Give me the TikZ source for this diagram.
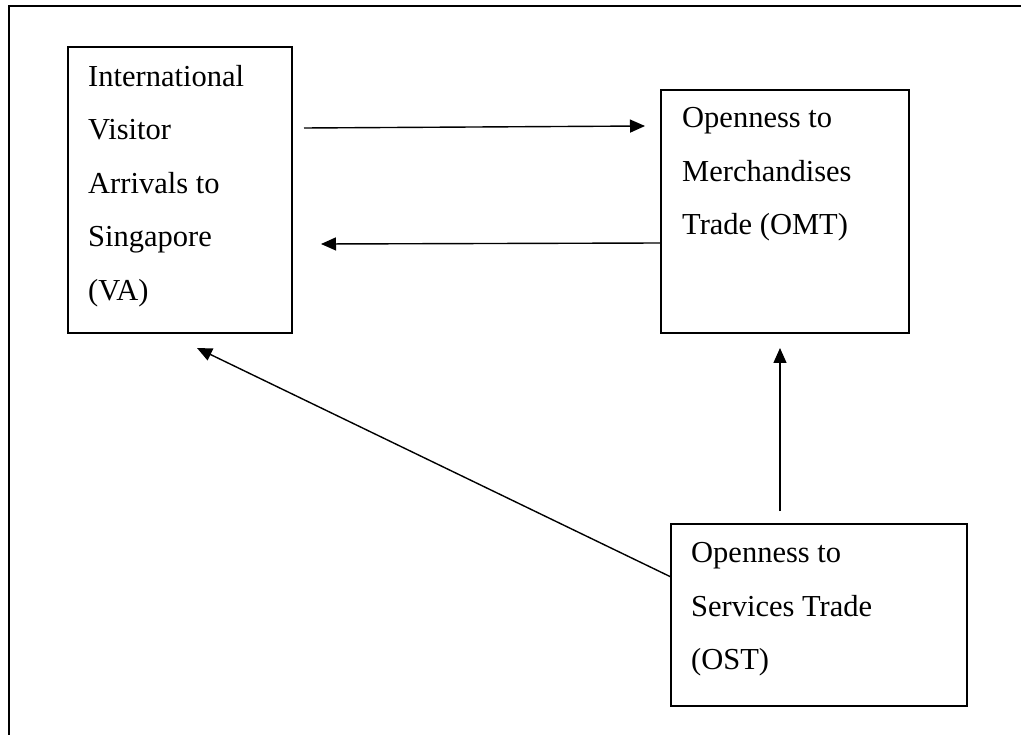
\documentclass[tikz,border=0pt]{standalone}
\usepackage{fontspec}
\setmainfont{Liberation Serif}
\usetikzlibrary{arrows.meta,calc}
\begin{document}
\begin{tikzpicture}[x=1pt,y=-1pt,
  box/.style={draw,line width=1.6pt,rectangle,inner sep=0pt,outer sep=0pt},
  lbl/.style={anchor=north west,inner sep=0pt,align=left,font=\fontsize{30.5}{53.5}\selectfont},
  arr/.style={line width=1.4pt,-{Triangle[length=15pt,width=13pt]}},
  frame/.style={line width=2pt}]
\useasboundingbox (0,0) rectangle (1021,735);
% outer frame (only top and left edges visible)
\draw[frame] (1021,6) -- (9,6) -- (9,735);
% boxes
\node[box,minimum width=224pt,minimum height=286pt] (va) at (180,190) {};
\node[box,minimum width=248pt,minimum height=243pt] (omt) at (785,211.5) {};
\node[box,minimum width=296pt,minimum height=182pt] (ost) at (819,615) {};
% labels
\node[lbl] (valbl) at ($(va.north west)+(20,18)$) {International\\Visitor\\Arrivals to\\Singapore\\(VA)};
\node[lbl] (omtlbl) at ($(omt.north west)+(21,17.5)$) {Openness to\\Merchandises\\Trade (OMT)};
\node[lbl] (ostlbl) at ($(ost.north west)+(20,18.5)$) {Openness to\\Services Trade\\(OST)};
% connectors
\draw[arr] ($(va.north east)+(12,81)$) -- ($(omt.north west)+(-16,36)$);
\draw[arr] ($(omt.north west)+(0,153)$) -- ($(va.north east)+(29,197)$);
\draw[arr] ($(ost.north west)+(109,-13)$) -- ($(omt.south west)+(119,15)$);
\draw[arr] ($(ost.north west)+(0,53)$) -- ($(va.south west)+(129,15)$);
\end{tikzpicture}
\end{document}
